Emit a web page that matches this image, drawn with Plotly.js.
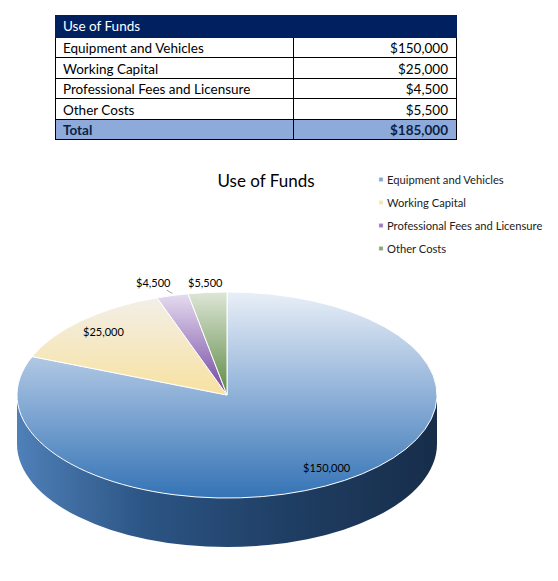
<!DOCTYPE html>
<html><head><meta charset="utf-8">
<script src="https://cdn.plot.ly/plotly-3.0.1.min.js"></script>
<style>html,body{margin:0;padding:0;background:#fff}</style>
</head><body><div id="chart" style="width:558px;height:581px"></div>
<script>
const categories = ['Equipment and Vehicles','Working Capital','Professional Fees and Licensure','Other Costs'];
const amounts = [150000, 25000, 4500, 5500];
const tableTitle = 'Use of Funds';
const chartTitle = 'Use of Funds';
const totalLabel = 'Total';
const sliceColors = ['#86a9d2','#f5e6b8','#9a7cc0','#86a872'];
const textPositions = ['inside','inside','outside','outside'];

const W = 558, H = 581;
const fmt = v => '$' + v.toLocaleString('en-US');
const total = amounts.reduce((a,b)=>a+b,0);
const FONT = 'Lato, "Open Sans", sans-serif';
const SX = 1.4, SY = 0.687;
const PCX = 227, PCY = 395, PR = 150, DEPTH = 49;
const RX = PR*SX, RY = PR*SY;

const nRows = categories.length + 1;
const isTotal = i => i===nRows-1;
const rowFill = Array.from({length:nRows},(_,i)=> isTotal(i) ? '#8eaadb' : '#ffffff');
const rowFont = Array.from({length:nRows},(_,i)=> isTotal(i) ? '#0b1f45' : '#000000');
const rowWeight = Array.from({length:nRows},(_,i)=> isTotal(i) ? 700 : 400);

const table = {
  type:'table',
  domain:{x:[55/W,456/W], y:[1-160/H, 1-15/H]},
  columnwidth:[238,163],
  header:{
    values:[[tableTitle],['']],
    fill:{color:'#002060'},
    line:{color:'#002060',width:1},
    font:{family:FONT,size:13.5,color:'#ffffff'},
    align:'left', height:22
  },
  cells:{
    values:[[...categories,totalLabel],[...amounts.map(fmt),fmt(total)]],
    fill:{color:[rowFill,rowFill]},
    line:{color:'#000000',width:1},
    font:{family:FONT,size:13.5,color:[rowFont,rowFont],weight:[rowWeight,rowWeight]},
    align:['left','right'], height:20.5
  }
};

const pie = {
  type:'pie', labels:categories, values:amounts, sort:false,
  direction:'clockwise', rotation:0,
  marker:{colors:sliceColors, line:{color:'#ffffff',width:1}},
  textinfo:'none',
  domain:{x:[(PCX-PR)/W,(PCX+PR)/W], y:[1-(PCY+PR)/H,1-(PCY-PR)/H]},
  hoverinfo:'none'
};

// data labels: placed at each slice's mid-angle on the flattened pie
const annotations = [];
{
  let cum = 0;
  const pts = amounts.map((v,i)=>{
    const mid = (cum + v/2)/total; cum += v;
    const a = mid*2*Math.PI;
    const k = textPositions[i]==='inside' ? 0.85 : 1.1;
    return {i, ex: PCX + RX*Math.sin(a), ey: PCY - RY*Math.cos(a),
            x: PCX + k*RX*Math.sin(a), y: PCY - k*RY*Math.cos(a)};
  });
  const outs = pts.filter(p=>textPositions[p.i]==='outside').sort((a,b)=>b.x-a.x);
  for(let j=1;j<outs.length;j++){
    const prev = outs[j-1], cur = outs[j];
    if(prev.x - cur.x < 52 && Math.abs(prev.y-cur.y) < 16){ cur.x = prev.x - 52; cur.y = prev.y; cur.leader = true; }
  }
  pts.forEach(p=>{
    const base = {text:fmt(amounts[p.i]), font:{family:FONT,size:11,color:'#000000'}, xref:'paper', yref:'paper'};
    if(p.leader){
      annotations.push(Object.assign(base,{x:p.ex/W, y:1-(p.ey-2)/H, showarrow:true, arrowhead:0, arrowwidth:0.8,
        arrowcolor:'#8c8c8c', standoff:0, axref:'pixel', ayref:'pixel', ax:p.x-p.ex, ay:p.y-(p.ey-2)}));
    } else {
      annotations.push(Object.assign(base,{x:p.x/W, y:1-p.y/H, showarrow:false, xanchor:'center', yanchor:'middle'}));
    }
  });
}

const layout = {
  width:W, height:H, margin:{l:0,r:0,t:0,b:0},
  paper_bgcolor:'#ffffff',
  title:{text:chartTitle, x:266/W, xanchor:'center', y:1-181/H, yanchor:'middle',
         font:{family:FONT,size:17,color:'#000000'}},
  showlegend:true,
  legend:{x:347/W, y:1-165/H, xanchor:'left', yanchor:'top',
          font:{family:FONT,size:11.2,color:'#222222'}, bgcolor:'rgba(0,0,0,0)'},
  annotations,
  shapes:[
    {type:'circle', xref:'paper', yref:'paper', x0:(PCX-RX)/W, x1:(PCX+RX)/W, y0:1-(PCY+DEPTH+RY)/H, y1:1-(PCY+DEPTH-RY)/H,
     fillcolor:'#26486f', line:{width:0}, layer:'below'},
    {type:'rect', xref:'paper', yref:'paper', x0:(PCX-RX)/W, x1:(PCX+RX)/W, y0:1-(PCY+DEPTH)/H, y1:1-PCY/H,
     fillcolor:'#26486f', line:{width:0}, layer:'below'}
  ]
};

const NS = 'http://www.w3.org/2000/svg';
function grad(defs,id,stops,horizontal){
  const g = document.createElementNS(NS,'linearGradient');
  g.setAttribute('id',id);
  g.setAttribute('x1','0'); g.setAttribute('y1','0');
  g.setAttribute('x2',horizontal?'1':'0'); g.setAttribute('y2',horizontal?'0':'1');
  stops.forEach(([o,c])=>{const s=document.createElementNS(NS,'stop');s.setAttribute('offset',o);s.setAttribute('stop-color',c);g.appendChild(s);});
  defs.appendChild(g);
}

Plotly.newPlot('chart',[table,pie],layout,{staticPlot:true}).then(gd=>{
  const svg = gd.querySelector('svg.main-svg');
  const defs = document.createElementNS(NS,'defs');
  svg.insertBefore(defs, svg.firstChild);
  grad(defs,'sg0',[[0,'#e9eff7'],[0.5,'#8fb1d8'],[1,'#3473b5']]);
  grad(defs,'sg1',[[0,'#f2efe7'],[1,'#f8e1a0']]);
  grad(defs,'sg2',[[0,'#e6dcf0'],[1,'#7044a0']]);
  grad(defs,'sg3',[[0,'#dde6d6'],[1,'#5e8a45']]);
  grad(defs,'side',[[0,'#4f80b8'],[0.3,'#2c5585'],[0.65,'#1f3e63'],[1,'#172d4a']],true);

  gd.querySelectorAll('.shapelayer path, .layer-below path').forEach(p=>{
    if(p.closest('.legend')) return;
    p.style.fill = 'url(#side)';
  });

  // table: total row bold (fallback) and text vertically centred like the original
  gd.querySelectorAll('.table .cell-text, text.cell-text').forEach(t=>{
    const s = t.textContent.trim();
    if(s===totalLabel || s===fmt(total)) t.style.fontWeight = '700';
    const h = t.closest('.cell-text-holder') || t;
    const tf = h.getAttribute('transform')||'';
    h.setAttribute('transform', tf + ' translate(0,-2)');
  });

  const cd = gd.calcdata[1] && gd.calcdata[1][0];
  const cx = (cd && cd.cx!=null) ? cd.cx : PCX;
  const cy = (cd && cd.cy!=null) ? cd.cy : PCY;
  const tr = gd.querySelector('.pielayer .trace');
  if(tr){
    tr.setAttribute('transform',`translate(${cx},${cy}) scale(${SX},${SY}) translate(${-cx},${-cy})`);
    tr.querySelectorAll('g.slice').forEach((s,i)=>{
      const p = s.querySelector('path.surface');
      if(p){ p.style.fill = `url(#sg${i})`; p.setAttribute('vector-effect','non-scaling-stroke'); }
    });
  }
  // legend: Excel-like spacing and small markers
  const items = gd.querySelectorAll('.legend g.traces');
  const m0 = /translate\(\s*([-\d.]+)[ ,]+([-\d.]+)/.exec((items[0]&&items[0].getAttribute('transform'))||'');
  const y0 = m0 ? +m0[2] : 0;
  items.forEach((g,i)=>{
    const m = /translate\(\s*([-\d.]+)[ ,]+([-\d.]+)/.exec(g.getAttribute('transform')||'');
    const x0 = m ? +m[1] : 0;
    g.setAttribute('transform',`translate(${x0},${y0 + i*23})`);
  });
  const sb = gd.querySelector('.legend .scrollbox');
  if(sb) sb.removeAttribute('clip-path');
  gd.querySelectorAll('.legend .legendpoints path').forEach(p=>{
    const t = p.getAttribute('transform')||'';
    p.setAttribute('transform', t + ' translate(14,0) scale(0.35)');
  });
});
</script>
</body></html>
